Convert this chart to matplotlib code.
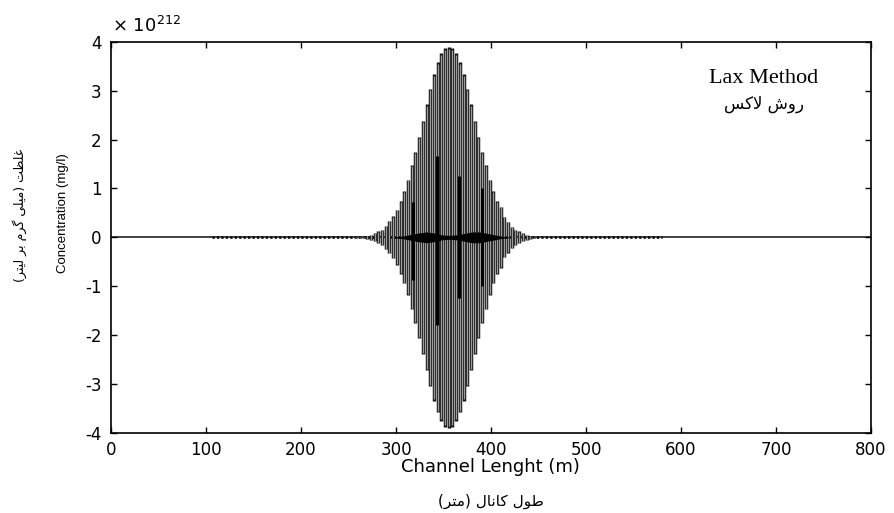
import numpy as np
import matplotlib
matplotlib.use("Agg")
import matplotlib.pyplot as plt

# envelope of the oscillating Lax solution (units of 1e212 mg/l), one bar every 3.9 m
bar_start, bar_step = 258.0, 3.9
bar_amp = [0.005, 0.01, 0.015, 0.025, 0.05, 0.08, 0.12, 0.16, 0.24, 0.33,
           0.43, 0.56, 0.74, 0.94, 1.18, 1.47, 1.75, 2.05, 2.38, 2.72,
           3.04, 3.34, 3.58, 3.76, 3.87, 3.90, 3.87, 3.76, 3.58, 3.34,
           3.04, 2.72, 2.38, 2.05, 1.75, 1.47, 1.18, 0.94, 0.74, 0.62,
           0.41, 0.31, 0.22, 0.16, 0.12, 0.085, 0.05, 0.025, 0.01]

# darker spikes laid over the main bars
spike_x = [318.0, 343.0, 366.0, 390.0]
spike_top = [0.73, 1.67, 1.25, 1.0]
spike_bot = [-0.88, -1.80, -1.25, -1.0]

# thick black band around zero
blob_x = [298, 308, 316, 324, 332, 340, 348, 356, 364, 372, 380, 388, 396, 404, 412, 420]
blob_h = [0.01, 0.03, 0.06, 0.09, 0.11, 0.09, 0.05, 0.04, 0.05, 0.08, 0.11, 0.11, 0.08, 0.05, 0.02, 0.005]

channel_range = [0, 800]
noise_range = [106, 580]

x_ticks = [0, 100, 200, 300, 400, 500, 600, 700, 800]
y_ticks = [-4, -3, -2, -1, 0, 1, 2, 3, 4]

# Persian strings, pre-shaped in visual order (matplotlib has no bidi / shaping)
fa_title = "\uFEB2\uFB90\uFEFB \uFEB5\uFEED\uFEAD"                      # روش لاکس
fa_xlabel = "(\uFEAE\uFE98\uFEE3) \uFEDD\uFE8E\uFEE7\uFE8E\uFB90 \uFEDD\uFEEE\uFEC3"  # طول کانال (متر)
fa_ylabel = ("(\uFEAE\uFE98\uFBFF\uFEDF \uFEAE\uFE91 \uFEE1\uFEAE\uFB94 "
             "\uFBFD\uFEE0\uFBFF\uFEE3) \uFE96\uFEC8\uFEE0\uFECF")      # غلظت (میلی گرم بر لیتر)

plt.rcParams["font.family"] = ["DejaVu Sans"]
plt.rcParams["axes.unicode_minus"] = False

fig = plt.figure(figsize=(8.94, 5.13), dpi=100)
fig.patch.set_facecolor("white")
ax = fig.add_axes([0.1242, 0.156, 0.8501, 0.7627])

bar_x = bar_start + bar_step * np.arange(len(bar_amp))
amp = np.array(bar_amp)

ax.plot(channel_range, [0, 0], color="#222222", lw=1.2, zorder=1)
ax.plot(noise_range, [0, 0], color="#111111", lw=2.0, ls=(0, (0.8, 0.8)), zorder=1)
ax.vlines(bar_x, -amp, amp, color="#151515", lw=2.5, zorder=2)
ax.vlines(bar_x, -amp * 0.99, amp * 0.99, color="#9c9c9c", lw=1.0, zorder=3)
ax.vlines(spike_x, spike_bot, spike_top, color="black", lw=2.2, zorder=4)
bx = np.array(blob_x)
bh = np.array(blob_h)
ax.fill_between(bx, -bh, bh, color="black", lw=0, zorder=4)

ax.set_xlim(channel_range)
ax.set_ylim(-4, 4)
ax.set_xticks(x_ticks)
ax.set_yticks(y_ticks)
ax.tick_params(direction="in", length=4.5, width=1.0, top=True, right=True,
               labelsize=12, pad=6, colors="black")
ax.tick_params(axis="y", pad=7)
for sp in ax.spines.values():
    sp.set_linewidth(1.2)
    sp.set_color("black")

fig.text(0.1253, 0.937, r"$\times\ 10^{212}$", fontsize=13, ha="left", va="baseline")

ax.text(0.859, 0.905, "Lax Method", transform=ax.transAxes, ha="center", va="center",
        fontsize=16, family=["Liberation Serif", "DejaVu Serif"])
ax.text(0.859, 0.842, fa_title, transform=ax.transAxes, ha="center", va="center",
        fontsize=12, family=["DejaVu Sans"])

fig.text(0.549, 0.089, "Channel Lenght (m)", ha="center", va="center", fontsize=13)
fig.text(0.549, 0.022, fa_xlabel, ha="center", va="center", fontsize=11)
fig.text(0.0705, 0.585, "Concentration (mg/l)", rotation=90, ha="center", va="center",
         fontsize=9.5, family=["Liberation Sans", "DejaVu Sans"])
fig.text(0.022, 0.58, fa_ylabel, rotation=90, ha="center", va="center", fontsize=9)

fig.savefig("out.png", dpi=100, facecolor="white")
